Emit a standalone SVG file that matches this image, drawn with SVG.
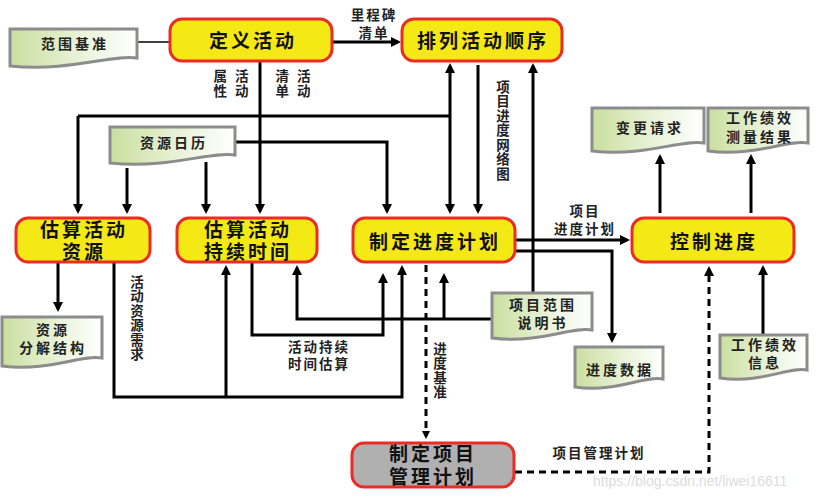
<svg xmlns="http://www.w3.org/2000/svg" width="824" height="499" viewBox="0 0 824 499">
<defs>
<linearGradient id="docg" x1="0" y1="0" x2="1" y2="0">
<stop offset="0" stop-color="#c9df9f"/>
<stop offset="0.55" stop-color="#e9f2d8"/>
<stop offset="1" stop-color="#ffffff"/>
</linearGradient>
<marker id="ah" markerUnits="userSpaceOnUse" markerWidth="10" markerHeight="10" refX="7" refY="5" orient="auto">
<path d="M0,0 L10,5 L0,10 Z" fill="#000"/>
</marker>
<marker id="ahs" markerUnits="userSpaceOnUse" markerWidth="8" markerHeight="8" refX="5" refY="4" orient="auto">
<path d="M0,0 L8,4 L0,8 Z" fill="#000"/>
</marker>
</defs>
<style>
.node{fill:#f4e915;stroke:#ec2b25;stroke-width:3}
.gray{fill:#b0b0b0;stroke:#ec2b25;stroke-width:3}
.doc{fill:url(#docg);stroke:#8c8c8c;stroke-width:3}
.nt{font-family:"Noto Sans CJK SC","Noto Sans",sans-serif;font-size:19px;font-weight:bold;fill:#111;text-anchor:middle;letter-spacing:3px}
.dt{font-family:"Noto Sans CJK SC","Noto Sans",sans-serif;font-size:14px;font-weight:bold;fill:#222;text-anchor:middle;letter-spacing:3px}
.et{font-family:"Noto Sans CJK SC","Noto Sans",sans-serif;font-size:13.5px;font-weight:bold;fill:#222;text-anchor:middle;letter-spacing:2px}
.vt{font-family:"Noto Sans CJK SC","Noto Sans",sans-serif;font-size:13.5px;font-weight:bold;fill:#222;writing-mode:vertical-rl;text-anchor:start;letter-spacing:1px}
.gt{font-family:"Noto Sans CJK SC","Noto Sans",sans-serif;font-size:13.5px;font-weight:bold;fill:#222;text-anchor:middle;letter-spacing:8px}
.c{fill:none;stroke:#000;stroke-width:3}
.a{marker-end:url(#ah)}
.d{fill:none;stroke:#000;stroke-width:3;stroke-dasharray:7 5}
</style>

<g id="connectors">
<path d="M137,42 H170" fill="none" stroke="#000" stroke-width="1.5"/>
<path class="c a" d="M333,42 H398"/>
<path class="c a" d="M260,62 V211"/>
<path class="c" d="M78,116 H450"/>
<path class="c a" d="M78,116 V211"/>
<path class="c a" d="M450,116 V66"/>
<path class="c a" d="M450,116 V211"/>
<path class="c a" d="M127,168 V211"/>
<path class="c a" d="M206,162 V211"/>
<path class="c a" d="M235,142 H387 V211"/>
<path class="c a" d="M478,65 V211"/>
<path class="c a" d="M533,293 V66"/>
<path class="c a" d="M515,240 H627"/>
<path class="c a" d="M515,251 H612 V340"/>
<path class="c a" d="M492,319 H297 V268"/>
<path class="c a" d="M444,319 V276"/>
<path class="c a" d="M252,263 V335 H383 V276"/>
<path class="c a" d="M114,263 V397 H402 V268"/>
<path class="c a" d="M226,397 V268"/>
<path class="c a" d="M58,263 V309"/>
<path class="d" d="M426,265 V436" marker-end="url(#ahs)"/>
<path class="d a" d="M515,472 H709 V269"/>
<path class="c a" d="M660,213 V157"/>
<path class="c a" d="M751,213 V157"/>
<path class="c a" d="M763,335 V268"/>
<text class="et"><tspan x="374" y="20">里程碑</tspan><tspan x="374" y="38">清单</tspan></text>
<text class="gt"><tspan x="235" y="81">属活</tspan><tspan x="235" y="96">性动</tspan></text>
<text class="gt"><tspan x="297" y="81">清活</tspan><tspan x="297" y="96">单动</tspan></text>
<text class="vt" x="503" y="80">项目进度网络图</text>
<text class="et"><tspan x="585" y="216">项目</tspan><tspan x="585" y="234">进度计划</tspan></text>
<text class="vt" x="137" y="275">活动资源需求</text>
<text class="et"><tspan x="319" y="352">活动持续</tspan><tspan x="319" y="369">时间估算</tspan></text>
<text class="vt" x="440" y="342">进度基准</text>
<text class="et" x="599" y="458">项目管理计划</text>
</g>

<g id="n-define">
<rect class="node" x="170" y="19" width="162" height="42" rx="12"/>
<text class="nt" x="253" y="48">定义活动</text>
</g>
<g id="n-sequence">
<rect class="node" x="402" y="19" width="160" height="42" rx="12"/>
<text class="nt" x="483" y="48">排列活动顺序</text>
</g>
<g id="n-resources">
<rect class="node" x="16" y="218" width="134" height="44" rx="12"/>
<text class="nt"><tspan x="84" y="237">估算活动</tspan><tspan x="84" y="259">资源</tspan></text>
</g>
<g id="n-duration">
<rect class="node" x="177" y="218" width="140" height="44" rx="12"/>
<text class="nt"><tspan x="248" y="237">估算活动</tspan><tspan x="248" y="259">持续时间</tspan></text>
</g>
<g id="n-schedule">
<rect class="node" x="353" y="218" width="162" height="44" rx="12"/>
<text class="nt" x="435" y="249">制定进度计划</text>
</g>
<g id="n-control">
<rect class="node" x="632" y="218" width="162" height="44" rx="12"/>
<text class="nt" x="714" y="249">控制进度</text>
</g>
<g id="n-pmplan">
<rect class="gray" x="352" y="443" width="162" height="44" rx="12"/>
<text class="nt"><tspan x="433" y="461">制定项目</tspan><tspan x="433" y="484">管理计划</tspan></text>
</g>

<g id="d-scope">
<path class="doc" d="M10,29 H137 V58 C113,54 70,72 10,66 Z"/>
<text class="dt" x="75" y="49">范围基准</text>
</g>
<g id="d-calendar">
<path class="doc" d="M110,127 H235 V155 C210,151 170,169 110,163 Z"/>
<text class="dt" x="174" y="148">资源日历</text>
</g>
<g id="d-change">
<path class="doc" d="M592,108 H704 V143 C682,139 645,157 592,151 Z"/>
<text class="dt" x="650" y="133">变更请求</text>
</g>
<g id="d-wpm">
<path class="doc" d="M708,108 H808 V143 C788,139 755,157 708,151 Z"/>
<text class="dt"><tspan x="760" y="123">工作绩效</tspan><tspan x="760" y="142">测量结果</tspan></text>
</g>
<g id="d-rbs">
<path class="doc" d="M2,317 H102 V358 C82,354 49,372 2,366 Z"/>
<text class="dt"><tspan x="53" y="335">资源</tspan><tspan x="53" y="353">分解结构</tspan></text>
</g>
<g id="d-scopestmt">
<path class="doc" d="M492,293 H592 V330 C572,326 539,344 492,338 Z"/>
<text class="dt"><tspan x="543" y="310">项目范围</tspan><tspan x="543" y="328">说明书</tspan></text>
</g>
<g id="d-data">
<path class="doc" d="M575,347 H663 V379 C645,375 616,393 575,387 Z"/>
<text class="dt" x="620" y="375">进度数据</text>
</g>
<g id="d-wpi">
<path class="doc" d="M720,335 H807 V370 C790,366 761,384 720,378 Z"/>
<text class="dt"><tspan x="765" y="350">工作绩效</tspan><tspan x="765" y="368">信息</tspan></text>
</g>

<text x="593" y="486" font-family="Liberation Sans, Arial, sans-serif" font-size="14" fill="#dcdcdc">https://blog.csdn.net/liwei16611</text>
</svg>
